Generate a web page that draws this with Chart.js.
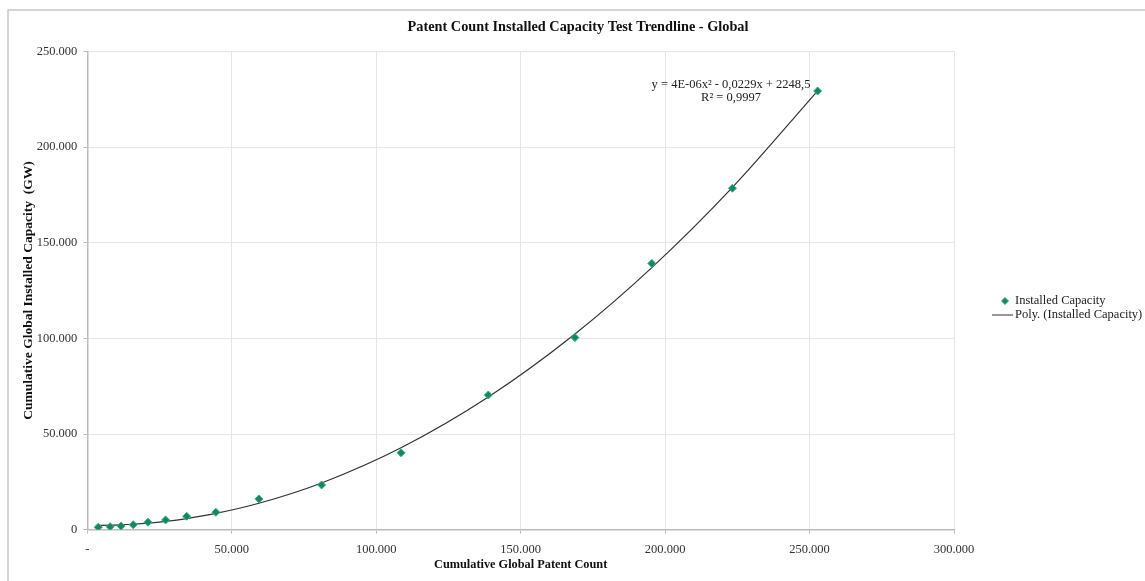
<!DOCTYPE html>
<html>
<head>
<meta charset="utf-8">
<script src="https://cdn.jsdelivr.net/npm/chart.js@4/dist/chart.umd.min.js"></script>
<style>
  html, body { margin: 0; padding: 0; background: #fff; }
  #wrap { position: absolute; left: 0; top: 0; width: 1145px; height: 581px; }
</style>
</head>
<body>
<div id="wrap"><canvas id="myChart" width="1145" height="581"></canvas></div>
<script>
// cumulative global patent count (x) and installed capacity in GW (y)
var patentCount = [3800, 7900, 11700, 15900, 21000, 27100, 34400, 44500, 59400, 81100, 108600, 138800, 168800, 195400, 223300, 252800];
var installedCapacity = [1300, 1600, 1900, 2600, 3900, 5100, 7000, 9100, 16100, 23400, 40200, 70400, 100400, 139200, 178500, 229300];

var xTicks = [0, 50000, 100000, 150000, 200000, 250000, 300000];
var yTicks = [0, 50000, 100000, 150000, 200000, 250000];

var chartTitle = 'Patent Count Installed Capacity Test Trendline - Global';
var xTitle = 'Cumulative Global Patent Count';
var yTitle = 'Cumulative Global Installed Capacity  (GW)';
var seriesName = 'Installed Capacity';
var trendName = 'Poly. (Installed Capacity)';
var trendLabel = ['y = 4E-06x\u00B2 - 0,0229x + 2248,5', 'R\u00B2 = 0,9997'];

var serif = "'Liberation Serif', 'DejaVu Serif', serif";
var pointFill = '#138a50';
var pointEdge = '#3aa9a2';

// least squares 2nd order fit, like the spreadsheet trendline
function quadFit(xs, ys) {
  var s = 1e5, S = [0, 0, 0, 0, 0], T = [0, 0, 0];
  xs.forEach(function(x, i) {
    var u = x / s;
    for (var k = 0; k < 5; k++) S[k] += Math.pow(u, k);
    for (var k = 0; k < 3; k++) T[k] += ys[i] * Math.pow(u, k);
  });
  var A = [[S[0], S[1], S[2], T[0]], [S[1], S[2], S[3], T[1]], [S[2], S[3], S[4], T[2]]];
  for (var i = 0; i < 3; i++) {
    for (var j = i + 1; j < 3; j++) {
      var f = A[j][i] / A[i][i];
      for (var k = i; k < 4; k++) A[j][k] -= f * A[i][k];
    }
  }
  var c = [0, 0, 0];
  for (var i = 2; i >= 0; i--) {
    var v = A[i][3];
    for (var k = i + 1; k < 3; k++) v -= A[i][k] * c[k];
    c[i] = v / A[i][i];
  }
  return function(x) { var u = x / s; return c[0] + c[1] * u + c[2] * u * u; };
}

var fit = quadFit(patentCount, installedCapacity);
var points = patentCount.map(function(x, i) { return {x: x, y: installedCapacity[i]}; });
var trend = patentCount.map(function(x) { return {x: x, y: fit(x)}; });

function dotted(v) {
  return String(v).replace(/\B(?=(\d{3})+(?!\d))/g, '.');
}

var decorPlugin = {
  id: 'decor',
  beforeDraw: function(chart) {
    var ctx = chart.ctx;
    ctx.save();
    ctx.strokeStyle = '#c8c8c8';
    ctx.lineWidth = 1.5;
    ctx.beginPath();
    ctx.moveTo(8, 581);
    ctx.lineTo(8, 10);
    ctx.lineTo(1145, 10);
    ctx.stroke();
    ctx.restore();
  },
  afterDraw: function(chart) {
    var ctx = chart.ctx;
    ctx.save();
    // title
    ctx.fillStyle = '#111';
    ctx.font = 'bold 14.3px ' + serif;
    ctx.textAlign = 'center';
    ctx.textBaseline = 'middle';
    ctx.fillText(chartTitle, 578, 27);

    // trendline equation
    ctx.font = '12.5px ' + serif;
    ctx.fillStyle = '#222';
    ctx.fillText(trendLabel[0], 731, 85);
    ctx.fillText(trendLabel[1], 731, 98);

    // legend
    ctx.textAlign = 'left';
    ctx.fillStyle = pointFill;
    ctx.strokeStyle = pointEdge;
    ctx.lineWidth = 1;
    ctx.beginPath();
    ctx.moveTo(1005, 297.5);
    ctx.lineTo(1008.5, 301);
    ctx.lineTo(1005, 304.5);
    ctx.lineTo(1001.5, 301);
    ctx.closePath();
    ctx.fill();
    ctx.stroke();
    ctx.strokeStyle = '#333';
    ctx.beginPath();
    ctx.moveTo(992, 315);
    ctx.lineTo(1013, 315);
    ctx.stroke();
    ctx.fillStyle = '#222';
    ctx.fillText(seriesName, 1015, 301);
    ctx.fillText(trendName, 1015, 315);
    ctx.restore();
  }
};

var tickFont = {family: serif, size: 12.5};

var config = {
  type: 'scatter',
  data: {
    datasets: [{
      label: seriesName,
      data: points,
      pointStyle: 'rectRot',
      pointRadius: 4,
      backgroundColor: pointFill,
      borderColor: pointEdge,
      borderWidth: 1
    }, {
      label: trendName,
      type: 'line',
      data: trend,
      showLine: true,
      pointRadius: 0,
      borderColor: '#333',
      borderWidth: 1.2,
      cubicInterpolationMode: 'monotone',
      fill: false
    }]
  },
  options: {
    responsive: false,
    animation: false,
    devicePixelRatio: 1,
    layout: {padding: {left: 0, top: 51.4, right: 191, bottom: 0}},
    plugins: {
      legend: {display: false},
      title: {display: false},
      tooltip: {enabled: false}
    },
    scales: {
      x: {
        type: 'linear',
        min: 0,
        max: 300000,
        afterBuildTicks: function(scale) { scale.ticks = xTicks.map(function(v) { return {value: v}; }); },
        afterFit: function(scale) { scale.height = 51.3; },
        grid: {color: '#e6e6e6', tickColor: '#bbb', tickLength: 4},
        border: {color: '#bbb', width: 1.5},
        ticks: {
          font: tickFont, color: '#333', padding: 9, maxRotation: 0,
          callback: function(v) { return v === 0 ? '-' : dotted(v); }
        },
        title: {display: true, text: xTitle, font: {family: serif, size: 12.3, weight: 'bold'}, color: '#111', padding: {top: 0, bottom: 9}}
      },
      y: {
        type: 'linear',
        min: 0,
        max: 250000,
        afterBuildTicks: function(scale) { scale.ticks = yTicks.map(function(v) { return {value: v}; }); },
        afterFit: function(scale) { scale.width = 87.3; },
        grid: {color: '#e6e6e6', tickColor: '#bbb', tickLength: 4},
        border: {color: '#bbb', width: 1.5},
        ticks: {
          font: tickFont, color: '#333', padding: 6,
          callback: function(v) { return dotted(v); }
        },
        title: {display: true, text: yTitle, font: {family: serif, size: 13.5, weight: 'bold'}, color: '#111', padding: {top: 20, bottom: 0}}
      }
    }
  },
  plugins: [decorPlugin]
};

var ctx = document.getElementById('myChart').getContext('2d');
var myChart = new Chart(ctx, config);
</script>
</body>
</html>
